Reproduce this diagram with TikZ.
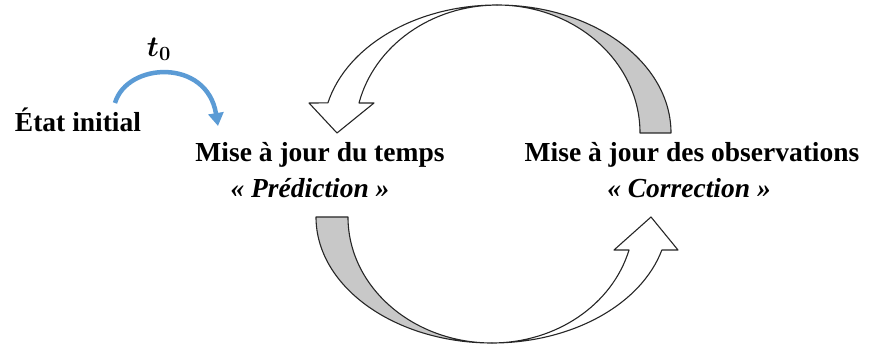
\documentclass[tikz,border=0pt]{standalone}
\usepackage{amsmath}
\usepackage{fontspec}
\setmainfont{Liberation Serif}
\usetikzlibrary{arrows.meta}
\definecolor{bandgray}{RGB}{200,200,200}
\definecolor{arrowblue}{RGB}{91,155,213}
\begin{document}
\begin{tikzpicture}[x=1pt,y=-1pt,
  lbl/.style={inner sep=0pt, anchor=base, font=\fontsize{27.5}{32}\selectfont\bfseries},
  sublbl/.style={inner sep=0pt, anchor=base, font=\fontsize{27.5}{32}\selectfont\bfseries\itshape},
  band/.style={draw=black!85, line width=1.1pt, line join=round},
  bluearrow/.style={arrowblue, line width=4.5pt, -{Triangle[length=13pt,width=15pt]}},
]
\useasboundingbox (0,0) rectangle (874,347);

% curved band arrows
\filldraw[band, fill=bandgray] (671,133)
  arc[start angle=0, end angle=-90, x radius=174, y radius=128]
  arc[start angle=-90, end angle=0, x radius=143, y radius=128] -- cycle;
\filldraw[band, fill=white] (497,5)
  arc[start angle=-90, end angle=-166.4, x radius=174, y radius=128]
  -- (309,103) -- (337,133) -- (374,103) -- (359,103)
  arc[start angle=-166.4, end angle=-90, x radius=142, y radius=128] -- cycle;

\filldraw[band, fill=bandgray] (316,217)
  arc[start angle=180, end angle=90, x radius=176, y radius=126]
  arc[start angle=90, end angle=180, x radius=144, y radius=126] -- cycle;
\filldraw[band, fill=white] (492,343)
  arc[start angle=90, end angle=15.2, x radius=176, y radius=126]
  -- (678,250) -- (651,217) -- (614,250) -- (629,250)
  arc[start angle=15.2, end angle=90, x radius=142, y radius=126] -- cycle;

% texts
\node[lbl] (tps) at (320,162) {Mise à jour du temps};
\node[sublbl] (pred) at (310,198) {«~Prédiction~»};
\node[lbl] (obs) at (692,162) {Mise à jour des observations};
\node[sublbl] (corr) at (689,198) {«~Correction~»};
\node[lbl] (init) at (78,132) {État initial};
\node[inner sep=0pt, font=\fontsize{20.74}{24}\selectfont] (t0) at (159,49) {\scalebox{1.4}{$\boldsymbol{t_0}$}};

% initial arrow
\coordinate (bs) at (115,103);
\coordinate (be) at (218,126);
\draw[bluearrow] (bs) .. controls (127,62) and (207,58) .. (be);
\end{tikzpicture}
\end{document}
